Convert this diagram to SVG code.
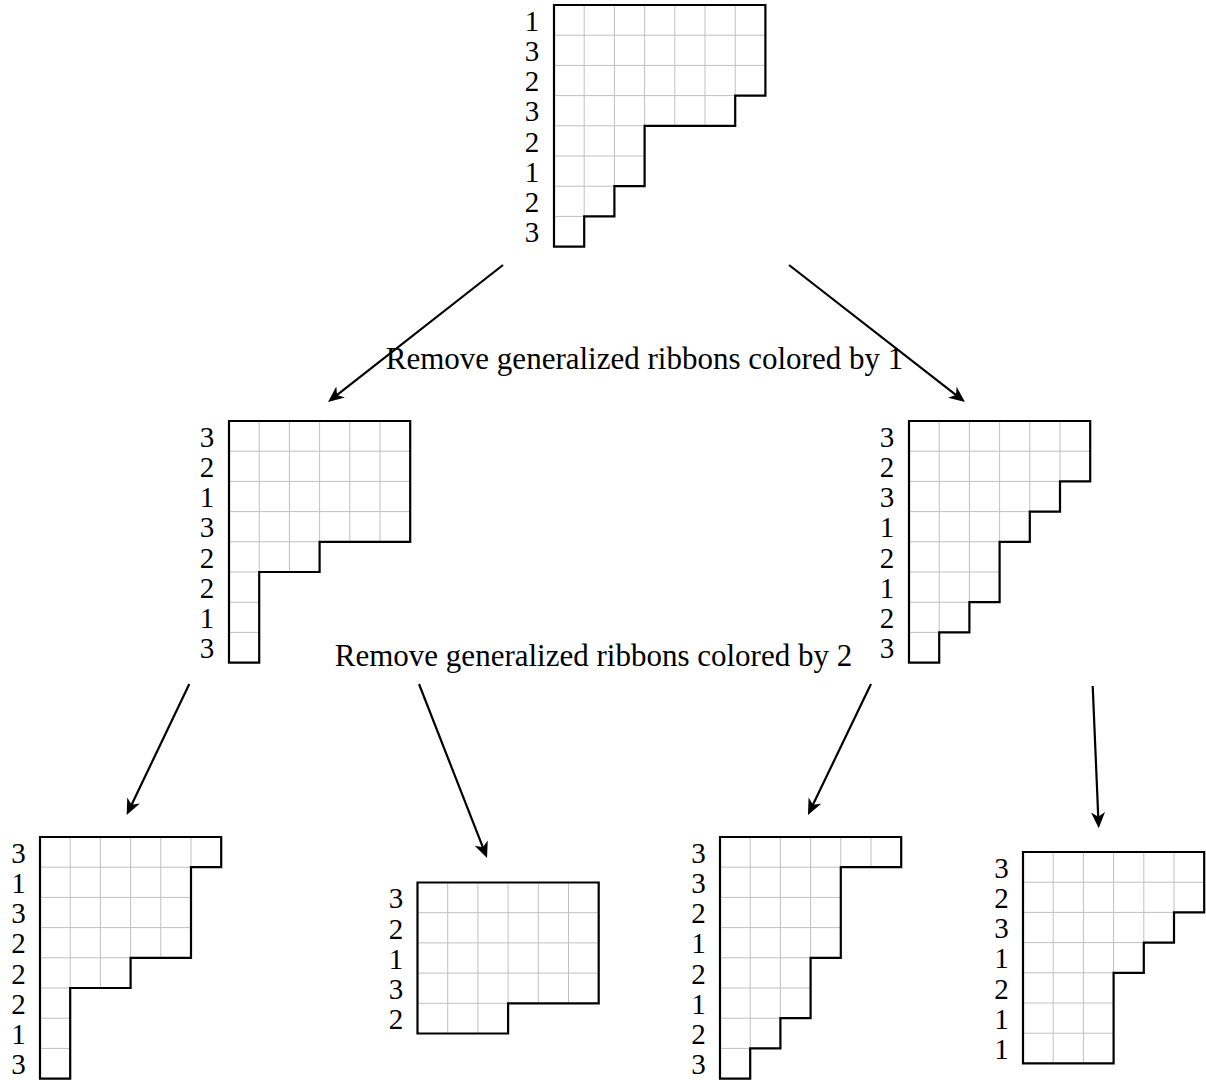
<svg xmlns="http://www.w3.org/2000/svg" width="1206" height="1080" viewBox="0 0 1206 1080">
<defs>
<style>
.grid{fill:none;stroke:#c0c0c0;stroke-width:1}
.out{fill:none;stroke:#000;stroke-width:2.2;stroke-linejoin:miter}
.lbl{font-family:"Liberation Serif","DejaVu Serif",serif;font-size:29px;fill:#000;text-anchor:middle}
.cap{font-family:"Liberation Serif","DejaVu Serif",serif;font-size:31px;fill:#000;text-anchor:middle}
.arr{fill:none;stroke:#000;stroke-width:2.2;marker-end:url(#head)}
</style>
<marker id="head" markerUnits="userSpaceOnUse" viewBox="-8 -8 20 16" refX="0" refY="0" markerWidth="20" markerHeight="16" orient="auto">
<path d="M10,0 L-6,-7 L-1.5,0 L-6,7 Z" fill="#000"/>
</marker>
</defs>
<rect width="1206" height="1080" fill="#fff"/>

<g id="top" transform="translate(554,5)">
<path class="grid" d="M0,30.2H211.4M0,60.4H211.4M0,90.6H181.2M0,120.8H90.6M0,151H90.6M0,181.2H60.4M0,211.4H30.2M30.2,0V211.4M60.4,0V181.2M90.6,0V120.8M120.8,0V120.8M151,0V120.8M181.2,0V90.6"/>
<path class="out" d="M0,0H211.4V90.6H181.2V120.8H90.6V181.2H60.4V211.4H30.2V241.6H0Z"/>
<text class="lbl" x="-22" y="25.8">1</text>
<text class="lbl" x="-22" y="56">3</text>
<text class="lbl" x="-22" y="86.2">2</text>
<text class="lbl" x="-22" y="116.4">3</text>
<text class="lbl" x="-22" y="146.6">2</text>
<text class="lbl" x="-22" y="176.8">1</text>
<text class="lbl" x="-22" y="207">2</text>
<text class="lbl" x="-22" y="237.2">3</text>
</g>

<g id="midleft" transform="translate(229,421)">
<path class="grid" d="M0,30.2H181.2M0,60.4H181.2M0,90.6H181.2M0,120.8H90.6M0,151H30.2M0,181.2H30.2M0,211.4H30.2M30.2,0V151M60.4,0V151M90.6,0V120.8M120.8,0V120.8M151,0V120.8"/>
<path class="out" d="M0,0H181.2V120.8H90.6V151H30.2V241.6H0Z"/>
<text class="lbl" x="-22" y="25.8">3</text>
<text class="lbl" x="-22" y="56">2</text>
<text class="lbl" x="-22" y="86.2">1</text>
<text class="lbl" x="-22" y="116.4">3</text>
<text class="lbl" x="-22" y="146.6">2</text>
<text class="lbl" x="-22" y="176.8">2</text>
<text class="lbl" x="-22" y="207">1</text>
<text class="lbl" x="-22" y="237.2">3</text>
</g>

<g id="midright" transform="translate(909,421)">
<path class="grid" d="M0,30.2H181.2M0,60.4H151M0,90.6H120.8M0,120.8H90.6M0,151H90.6M0,181.2H60.4M0,211.4H30.2M30.2,0V211.4M60.4,0V181.2M90.6,0V120.8M120.8,0V90.6M151,0V60.4"/>
<path class="out" d="M0,0H181.2V60.4H151V90.6H120.8V120.8H90.6V181.2H60.4V211.4H30.2V241.6H0Z"/>
<text class="lbl" x="-22" y="25.8">3</text>
<text class="lbl" x="-22" y="56">2</text>
<text class="lbl" x="-22" y="86.2">3</text>
<text class="lbl" x="-22" y="116.4">1</text>
<text class="lbl" x="-22" y="146.6">2</text>
<text class="lbl" x="-22" y="176.8">1</text>
<text class="lbl" x="-22" y="207">2</text>
<text class="lbl" x="-22" y="237.2">3</text>
</g>

<g id="bot1" transform="translate(40,837)">
<path class="grid" d="M0,30.2H151M0,60.4H151M0,90.6H151M0,120.8H90.6M0,151H30.2M0,181.2H30.2M0,211.4H30.2M30.2,0V151M60.4,0V151M90.6,0V120.8M120.8,0V120.8M151,0V30.2"/>
<path class="out" d="M0,0H181.2V30.2H151V120.8H90.6V151H30.2V241.6H0Z"/>
<text class="lbl" x="-21.5" y="25.8">3</text>
<text class="lbl" x="-21.5" y="56">1</text>
<text class="lbl" x="-21.5" y="86.2">3</text>
<text class="lbl" x="-21.5" y="116.4">2</text>
<text class="lbl" x="-21.5" y="146.6">2</text>
<text class="lbl" x="-21.5" y="176.8">2</text>
<text class="lbl" x="-21.5" y="207">1</text>
<text class="lbl" x="-21.5" y="237.2">3</text>
</g>

<g id="bot2" transform="translate(417.5,882.5)">
<path class="grid" d="M0,30.2H181.2M0,60.4H181.2M0,90.6H181.2M0,120.8H90.6M30.2,0V151M60.4,0V151M90.6,0V120.8M120.8,0V120.8M151,0V120.8"/>
<path class="out" d="M0,0H181.2V120.8H90.6V151H0Z"/>
<text class="lbl" x="-21.5" y="25.8">3</text>
<text class="lbl" x="-21.5" y="56">2</text>
<text class="lbl" x="-21.5" y="86.2">1</text>
<text class="lbl" x="-21.5" y="116.4">3</text>
<text class="lbl" x="-21.5" y="146.6">2</text>
</g>

<g id="bot3" transform="translate(720,837)">
<path class="grid" d="M0,30.2H120.8M0,60.4H120.8M0,90.6H120.8M0,120.8H90.6M0,151H90.6M0,181.2H60.4M0,211.4H30.2M30.2,0V211.4M60.4,0V181.2M90.6,0V120.8M120.8,0V30.2M151,0V30.2"/>
<path class="out" d="M0,0H181.2V30.2H120.8V120.8H90.6V181.2H60.4V211.4H30.2V241.6H0Z"/>
<text class="lbl" x="-21.5" y="25.8">3</text>
<text class="lbl" x="-21.5" y="56">3</text>
<text class="lbl" x="-21.5" y="86.2">2</text>
<text class="lbl" x="-21.5" y="116.4">1</text>
<text class="lbl" x="-21.5" y="146.6">2</text>
<text class="lbl" x="-21.5" y="176.8">1</text>
<text class="lbl" x="-21.5" y="207">2</text>
<text class="lbl" x="-21.5" y="237.2">3</text>
</g>

<g id="bot4" transform="translate(1023,852)">
<path class="grid" d="M0,30.2H181.2M0,60.4H151M0,90.6H120.8M0,120.8H90.6M0,151H90.6M0,181.2H90.6M30.2,0V211.4M60.4,0V211.4M90.6,0V120.8M120.8,0V90.6M151,0V60.4"/>
<path class="out" d="M0,0H181.2V60.4H151V90.6H120.8V120.8H90.6V211.4H0Z"/>
<text class="lbl" x="-21.5" y="25.8">3</text>
<text class="lbl" x="-21.5" y="56">2</text>
<text class="lbl" x="-21.5" y="86.2">3</text>
<text class="lbl" x="-21.5" y="116.4">1</text>
<text class="lbl" x="-21.5" y="146.6">2</text>
<text class="lbl" x="-21.5" y="176.8">1</text>
<text class="lbl" x="-21.5" y="207">1</text>
</g>

<g id="connectors">
<path class="arr" d="M503,265L335.9,395.8"/>
<path class="arr" d="M789,265L957.1,395.9"/>
<path class="arr" d="M189.3,684L131,806"/>
<path class="arr" d="M419,684L483.4,848.7"/>
<path class="arr" d="M871,684L812.3,806"/>
<path class="arr" d="M1092.7,686L1098.3,818.3"/>
</g>

<g id="labels">
<text class="cap" x="644.5" y="369">Remove generalized ribbons colored by 1</text>
<text class="cap" x="593.5" y="666">Remove generalized ribbons colored by 2</text>
</g>
</svg>
